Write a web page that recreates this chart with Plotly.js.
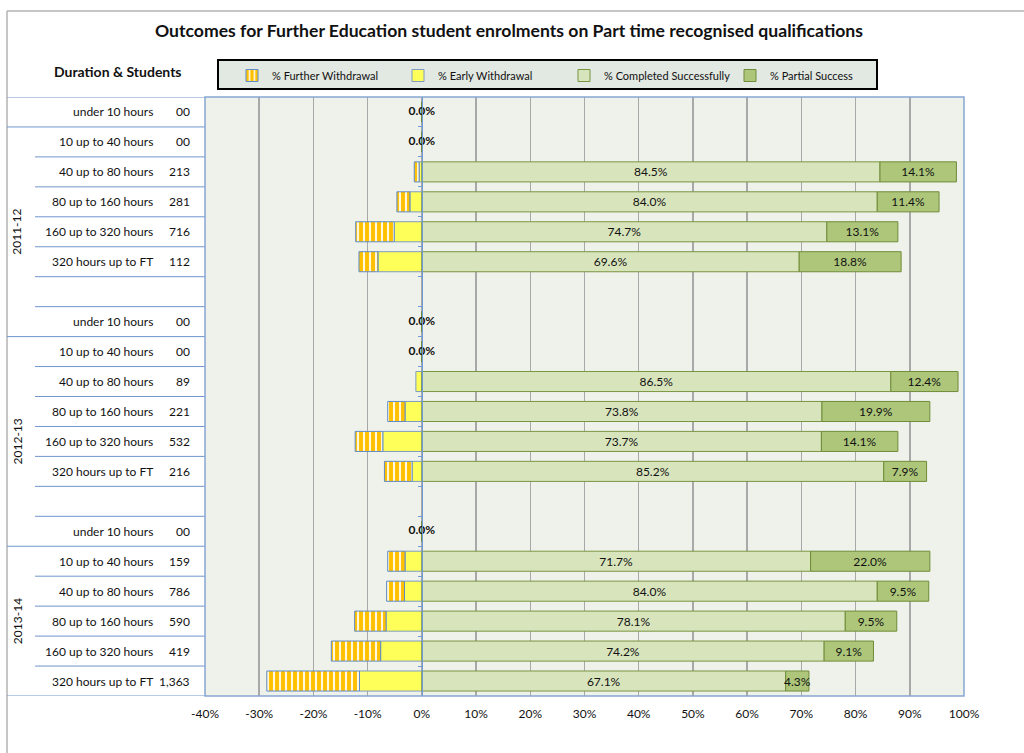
<!DOCTYPE html>
<html>
<head>
<meta charset="utf-8">
<script src="https://cdn.plot.ly/plotly-3.0.1.min.js"></script>
<style>html,body{margin:0;padding:0;background:#fff;}#chart{width:1024px;height:753px;}</style>
</head>
<body>
<div id="chart"></div>
<script>
// ---- Data (top to bottom, blank separator rows have null) ----
var rowDuration = ['under 10 hours','10 up to 40 hours','40 up to 80 hours','80 up to 160 hours','160 up to 320 hours','320 hours up to FT','',
                   'under 10 hours','10 up to 40 hours','40 up to 80 hours','80 up to 160 hours','160 up to 320 hours','320 hours up to FT','',
                   'under 10 hours','10 up to 40 hours','40 up to 80 hours','80 up to 160 hours','160 up to 320 hours','320 hours up to FT'];
var rowStudents = ['00','00','213','281','716','112','',
                   '00','00','89','221','532','216','',
                   '00','159','786','590','419','1,363'];
var completed = [0,0,84.5,84.0,74.7,69.6,null, 0,0,86.5,73.8,73.7,85.2,null, 0,71.7,84.0,78.1,74.2,67.1];
var partial   = [0,0,14.1,11.4,13.1,18.8,null, 0,0,12.4,19.9,14.1,7.9,null, 0,22.0,9.5,9.5,9.1,4.3];
var earlyWd   = [0,0,0.5,2.2,5.1,8.1,null, 0,0,1.1,3.1,7.2,1.8,null, 0,3.1,3.2,6.6,7.6,11.5];
var furtherWd = [0,0,0.9,2.4,7.1,3.5,null, 0,0,0.0,3.2,5.1,5.1,null, 0,3.2,3.3,5.8,9.1,17.1];
var years = ['2011-12','2012-13','2013-14'];
var yearFirstRow = [1,8,15];
var yearLastRow  = [7,14,19];
var xTicks = [-40,-30,-20,-10,0,10,20,30,40,50,60,70,80,90,100];

var FONT = 'Lato, "Open Sans", "Liberation Sans", sans-serif';
var rowIdx = rowDuration.map(function(_, i){ return i; });
function pct(v){ return (v === null || v === 0) ? '' : v.toFixed(1) + '%'; }
function neg(v){ return v === null ? null : -v; }

var traces = [
  {type:'bar', orientation:'h', name:'% Early Withdrawal', legendrank:2,
   y: rowIdx, x: earlyWd.map(neg), width:0.67,
   marker:{color:'#ffff5a', line:{color:'#7f9bc0', width:1}},
   hoverinfo:'skip'},
  {type:'bar', orientation:'h', name:'% Further Withdrawal', legendrank:1,
   y: rowIdx, x: furtherWd.map(neg), width:0.67,
   marker:{color:'#ffc000', line:{color:'#5f8cc8', width:1},
           pattern:{shape:'|', fgcolor:'#fff8dc', bgcolor:'#ffc000', size:6, solidity:0.35}},
   hoverinfo:'skip'},
  {type:'bar', orientation:'h', name:'% Completed Successfully', legendrank:3,
   y: rowIdx, x: completed, width:0.67,
   text: completed.map(pct), textposition:'inside', insidetextanchor:'middle', constraintext:'none',
   textfont:{family:FONT, size:12, color:'#111'},
   marker:{color:'#d8e4bc', line:{color:'#7a9540', width:1}},
   hoverinfo:'skip'},
  {type:'bar', orientation:'h', name:'% Partial Success', legendrank:4,
   y: rowIdx, x: partial, width:0.67,
   text: partial.map(pct), textposition:'inside', insidetextanchor:'middle', constraintext:'none',
   textfont:{family:FONT, size:12, color:'#111'},
   marker:{color:'#adc67a', line:{color:'#6f8c38', width:1}},
   hoverinfo:'skip'}
];

// zero-result rows show "0.0%"
var zx = [], zy = [], zt = [];
completed.forEach(function(v, i){ if (v === 0) { zx.push(0); zy.push(i); zt.push('<b>0.0%</b>'); } });
traces.push({type:'scatter', mode:'text', x:zx, y:zy, text:zt, showlegend:false, hoverinfo:'skip',
  textposition:'middle center', textfont:{family:FONT, size:12, color:'#111'}});

// ---- Layout helpers ----
var L = 205, R = 964, T = 97, B = 696, W = R - L, H = B - T;
function px(x){ return (x - L) / W; }
function py(y){ return (B - y) / H; }

var shapes = [];
// outer chart frame (top and left)
shapes.push({type:'line', xref:'paper', yref:'paper', x0:px(7), x1:px(1024), y0:py(11), y1:py(11), line:{color:'#b3b3b3', width:1.5}});
shapes.push({type:'line', xref:'paper', yref:'paper', x0:px(7), x1:px(7), y0:py(11), y1:py(753), line:{color:'#b3b3b3', width:1.5}});
// legend box
shapes.push({type:'rect', xref:'paper', yref:'paper', x0:px(218), x1:px(877), y0:py(60), y1:py(89),
  fillcolor:'#e2e8e2', line:{color:'#000', width:2}, layer:'above'});
// table separators
var fullBounds = [-0.5, 0.5].concat(yearLastRow.map(function(r){ return r + 0.5; }));
for (var b = -0.5; b <= 19.5; b += 1) {
  var isFull = fullBounds.indexOf(b) >= 0;
  shapes.push({type:'line', xref:'paper', yref:'y', x0: isFull ? px(7) : px(35), x1:0, y0:b, y1:b,
    line:{color:'#7096cc', width:1}});
}
// plot area border
shapes.push({type:'rect', xref:'paper', yref:'paper', x0:0, x1:1, y0:0, y1:1, layer:'above',
  line:{color:'#86a6d2', width:1.5}});

var annotations = [];
annotations.push({xref:'paper', yref:'paper', x:px(118), y:py(72), xanchor:'center', yanchor:'middle', showarrow:false,
  text:'<b>Duration &amp; Students</b>', font:{family:FONT, size:14, color:'#111'}});
rowDuration.forEach(function(d, i){
  if (!d) return;
  annotations.push({xref:'paper', yref:'y', x:px(155), y:i, xanchor:'right', yanchor:'middle', showarrow:false,
    text:d, font:{family:FONT, size:12, color:'#111'}});
  annotations.push({xref:'paper', yref:'y', x:px(192), y:i, xanchor:'right', yanchor:'middle', showarrow:false,
    text:rowStudents[i], font:{family:FONT, size:12, color:'#111'}});
});
years.forEach(function(yr, k){
  annotations.push({xref:'paper', yref:'y', x:px(17), y:(yearFirstRow[k] + yearLastRow[k]) / 2,
    xanchor:'center', yanchor:'middle', showarrow:false, textangle:-90,
    text:yr, font:{family:FONT, size:12, color:'#111'}});
});

var boundaries = [];
for (var t = 0.5; t < 19; t += 1) boundaries.push(t);

var layout = {
  width:1024, height:753,
  margin:{l:L, r:1024 - R, t:T, b:753 - B, pad:0},
  paper_bgcolor:'#ffffff', plot_bgcolor:'#eff2ea',
  barmode:'relative', bargap:0.33,
  font:{family:FONT, size:12, color:'#111'},
  title:{text:'<b>Outcomes for Further Education student enrolments on Part time recognised qualifications</b>',
    x:509/1024, xref:'container', xanchor:'center', y:1 - 31/753, yref:'container', yanchor:'middle',
    font:{family:FONT, size:17.6, color:'#111'}},
  xaxis:{range:[-40,100], tickvals:xTicks, ticktext:xTicks.map(function(v){ return v + '%'; }),
    showgrid:true, gridcolor:'#a8a8a8', gridwidth:1.5, zeroline:false, showline:false, ticks:'',
    ticklabelstandoff:9,
    tickfont:{family:FONT, size:12, color:'#111'}, fixedrange:true},
  xaxis2:{overlaying:'x', side:'top', range:[-40,100], tickvals:xTicks, showticklabels:false,
    ticks:'outside', ticklen:3, tickcolor:'#a8a8a8', tickwidth:1.5, showgrid:false, zeroline:false, showline:false,
    minor:{dtick:2, tick0:0, ticks:'inside', ticklen:3, tickcolor:'#a8a8a8', showgrid:false}},
  yaxis:{range:[19.5,-0.5], anchor:'free', position:px(L + W * 40 / 140), showline:true, linecolor:'#6f9ad6', linewidth:1.2,
    tickvals:boundaries, ticks:'outside', ticklen:4, tickcolor:'#6f9ad6', showticklabels:false,
    showgrid:false, zeroline:false, fixedrange:true},
  legend:{orientation:'h', x:px(232), y:py(61), xanchor:'left', yanchor:'top',
    bgcolor:'rgba(0,0,0,0)', borderwidth:0, font:{family:FONT, size:11, color:'#111'},
    entrywidth:121, itemwidth:30, traceorder:'normal'},
  shapes:shapes, annotations:annotations, showlegend:true
};

Plotly.newPlot('chart', traces, layout, {staticPlot:true, displayModeBar:false});
</script>
</body>
</html>
